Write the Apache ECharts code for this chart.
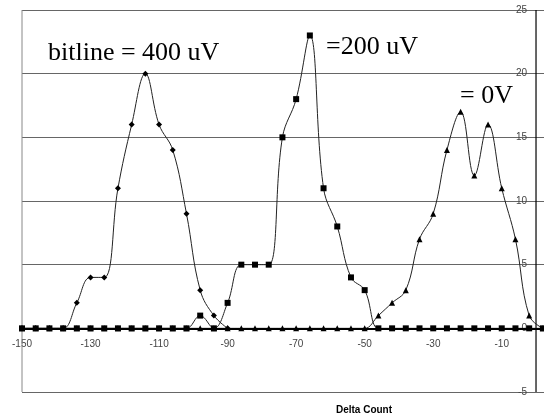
<!DOCTYPE html>
<html>
<head>
<meta charset="utf-8">
<script src="https://cdn.jsdelivr.net/npm/echarts@6/dist/echarts.min.js"></script>
<style>
  html, body { margin: 0; padding: 0; background: #fff; }
  #chart { width: 544px; height: 416px; }
</style>
</head>
<body>
<div id="chart"></div>
<script>
// x positions (Delta Count)
const deltaCount = [-150, -146, -142, -138, -134, -130, -126, -122, -118, -114, -110, -106, -102,
  -98, -94, -90, -86, -82, -78, -74, -70, -66, -62, -58, -54, -50,
  -46, -42, -38, -34, -30, -26, -22, -18, -14, -10, -6, -2, 2];

// bitline = 400 uV (diamonds), stops at -90
const bitline400 = [0, 0, 0, 0, 2, 4, 4, 11, 16, 20, 16, 14, 9, 3, 1, 0];

// bitline = 200 uV (squares)
const bitline200 = [0, 0, 0, 0, 0, 0, 0, 0, 0, 0, 0, 0, 0,
  1, 0, 2, 5, 5, 5, 15, 18, 23, 11, 8, 4, 3,
  0, 0, 0, 0, 0, 0, 0, 0, 0, 0, 0, 0, 0];

// bitline = 0 V (triangles)
const bitline0 = [0, 0, 0, 0, 0, 0, 0, 0, 0, 0, 0, 0, 0,
  0, 0, 0, 0, 0, 0, 0, 0, 0, 0, 0, 0, 0,
  1, 2, 3, 7, 9, 14, 17, 12, 16, 11, 7, 1, 0];

const xTickLabels = [-150, -130, -110, -90, -70, -50, -30, -10];
const yTickLabels = [-5, 0, 5, 10, 15, 20, 25];

const xMin = -150, xMax = 2.33, yMin = -5, yMax = 25;

const toPoints = (ys) => ys.map((y, i) => [deltaCount[i], y]);

const chart = echarts.init(document.getElementById('chart'));

const lineSeries = (name, data, symbol, extra) => Object.assign({
  name: name,
  type: 'line',
  data: toPoints(data),
  smooth: 0.4,
  symbol: symbol,
  symbolSize: 6,
  showAllSymbol: true,
  lineStyle: { color: '#222', width: 1 },
  itemStyle: { color: '#000', borderWidth: 0 },
  emphasis: { disabled: true }
}, extra || {});

const serif = '26px "Liberation Serif", "Times New Roman", serif';
const sans = 'Liberation Sans, Arial, sans-serif';

chart.setOption({
  animation: false,
  grid: { left: 22, right: 0, top: 10, bottom: 24, show: false },
  xAxis: {
    type: 'value',
    position: 'bottom',
    min: xMin, max: xMax, interval: 10,
    axisLine: { show: false, onZero: false },
    axisTick: { show: false },
    splitLine: { show: false },
    axisLabel: {
      inside: true,
      margin: 43,
      color: '#444',
      fontFamily: sans,
      fontSize: 10,
      showMaxLabel: false,
      formatter: (v) => xTickLabels.includes(v) ? String(v) : ''
    }
  },
  yAxis: [
    {
      // gridlines
      type: 'value',
      position: 'left',
      min: yMin, max: yMax, interval: 5,
      axisLine: { show: false, onZero: false },
      axisTick: { show: false },
      axisLabel: { show: false },
      splitLine: { show: true, lineStyle: { color: '#666', width: 1 } }
    },
    {
      // tick labels just left of the zero line
      type: 'value',
      position: 'right',
      min: yMin, max: yMax, interval: 5,
      axisLine: { show: false, onZero: false },
      axisTick: { show: false },
      splitLine: { show: false },
      axisLabel: {
        inside: true,
        margin: 17,
        color: '#444',
        fontFamily: sans,
        fontSize: 10,
        formatter: (v) => yTickLabels.includes(v) ? String(v) : ''
      }
    }
  ],
  graphic: [
    { type: 'text', left: 48, top: 40, style: { text: 'bitline = 400 uV', font: serif, fill: '#000' } },
    { type: 'text', left: 326, top: 34, style: { text: '=200 uV', font: serif, fill: '#000' } },
    { type: 'text', left: 460, top: 83, style: { text: '= 0V', font: serif, fill: '#000' } },
    { type: 'text', x: 364, y: 405, style: { text: 'Delta Count', font: 'bold 10px "Liberation Sans", Arial, sans-serif', fill: '#000', textAlign: 'center' } }
  ],
  series: [
    // plot frame on the left and the vertical axis at Delta Count = 0
    {
      type: 'line', silent: true, symbol: 'none', z: 1,
      data: [[xMin, yMin], [xMin, yMax]],
      lineStyle: { color: '#888', width: 1 }
    },
    {
      type: 'line', silent: true, symbol: 'none', z: 3,
      data: [[0, yMin], [0, yMax]],
      lineStyle: { color: '#000', width: 1.2 }
    },
    lineSeries('bitline = 0 V', bitline0, 'triangle', {
      markLine: {
        silent: true,
        symbol: 'none',
        label: { show: false },
        animation: false,
        data: [
          { yAxis: 0, lineStyle: { color: '#000', width: 2, type: 'solid' } }
        ]
      }
    }),
    lineSeries('bitline = 400 uV', bitline400, 'diamond'),
    lineSeries('bitline = 200 uV', bitline200, 'rect')
  ]
});
</script>
</body>
</html>
